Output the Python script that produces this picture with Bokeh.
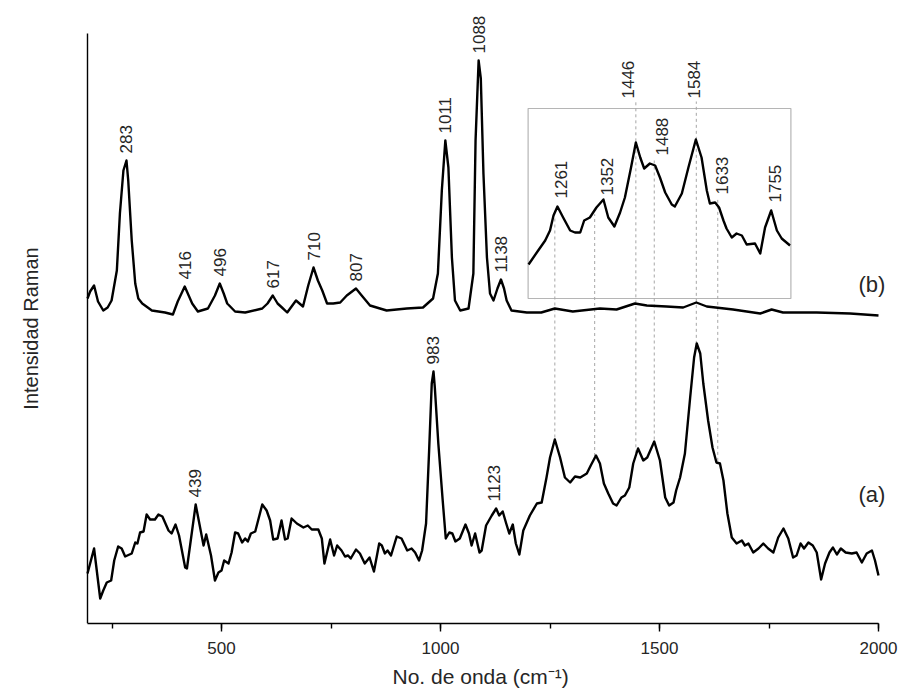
import numpy as np
from bokeh.plotting import figure
from bokeh.models import Range1d, SingleIntervalTicker, Label, ColumnDataSource, Title
from bokeh.core.properties import value
from bokeh.embed import file_html
from bokeh.resources import INLINE

# ---------------- data (wavenumber cm-1, intensity a.u.) ----------------
b_x = [194, 200, 209, 218, 230, 240, 249, 261, 268, 276, 283, 287, 295, 303, 310, 319, 341, 371, 389,
       400, 416, 425, 433, 446, 469, 485, 496, 505, 513, 531, 554, 593, 605, 617, 628, 638, 650, 670,
       686, 698, 710, 720, 730, 741, 755, 771, 786, 807, 820, 839, 877, 923, 960, 983, 994, 1003, 1011,
       1018, 1026, 1033, 1045, 1064, 1075, 1080, 1087, 1092, 1098, 1106, 1113, 1121, 1130, 1138, 1145,
       1151, 1162, 1197, 1230, 1261, 1302, 1364, 1402, 1444, 1471, 1516, 1554, 1584, 1608, 1668, 1730,
       1756, 1782, 1859, 1935, 2000]
b_y = [325, 332, 338, 322, 313, 316, 323, 353, 410, 453, 463, 443, 383, 340, 325, 320, 313, 311, 309,
       322, 337, 328, 320, 312, 315, 328, 340, 330, 320, 312, 311, 315, 320, 328, 320, 316, 311, 323,
       317, 338, 356, 343, 333, 320, 320, 321, 328, 335, 328, 318, 313, 315, 316, 325, 350, 433, 483,
       456, 366, 323, 313, 315, 350, 483, 563, 545, 450, 366, 330, 323, 335, 344, 335,
       323, 313, 311, 311, 315, 312, 315, 314, 320, 318, 317, 316, 321, 317, 314, 310,
       314, 311, 311, 310, 308]

a_x = [194, 209, 223, 230, 238, 248, 255, 264, 272, 280, 295, 303, 308, 314, 322, 329, 337, 348, 356,
       365, 379, 386, 395, 403, 417, 421, 441, 459, 465, 476, 485, 493, 500, 506, 516, 523, 531, 538,
       547, 554, 560, 567, 577, 593, 603, 611, 618, 628, 637, 645, 651, 660, 672, 687, 697, 706, 721,
       729, 735, 748, 757, 764, 774, 782, 789, 795, 807, 816, 827, 838, 848, 860, 866, 873, 879, 887,
       900, 911, 924, 934, 942, 951, 958, 967, 974, 980, 984, 987, 995, 1005, 1012, 1020, 1027, 1034,
       1044, 1057, 1065, 1071, 1079, 1089, 1094, 1104, 1117, 1127, 1134, 1142, 1150, 1157, 1165, 1172,
       1180, 1189, 1204, 1220, 1231, 1242, 1250, 1261, 1273, 1284, 1296, 1307, 1319, 1334, 1343, 1355,
       1364, 1373, 1383, 1394, 1402, 1413, 1421, 1431, 1440, 1451, 1463, 1472, 1488, 1501, 1513, 1522,
       1532, 1538, 1547, 1558, 1570, 1579, 1585, 1593, 1600, 1611, 1621, 1630, 1638, 1646, 1655, 1665,
       1676, 1688, 1695, 1703, 1714, 1726, 1737, 1748, 1760, 1771, 1783, 1794, 1805, 1813, 1822, 1830,
       1840, 1850, 1859, 1869, 1878, 1888, 1896, 1905, 1914, 1925, 1939, 1950, 1962, 1973, 1985, 1992,
       2000]
a_y = [50, 75, 25, 33, 41, 43, 63, 77, 75, 67, 70, 81, 80, 91, 92, 109, 104, 104, 109,
       107, 93, 90, 99, 88, 56, 55, 119, 78, 89, 68, 43, 51, 53, 63, 60, 71, 91, 90,
       81, 85, 82, 90, 92, 119, 113, 103, 84, 85, 103, 84, 85, 105, 100, 96, 98, 94, 94,
       85, 60, 84, 68, 78, 73, 67, 68, 65, 74, 70, 60, 66, 52, 80, 78, 70, 73, 68,
       87, 85, 73, 75, 71, 63, 73, 100, 173, 240, 252, 236, 180, 123, 85, 91, 90, 82,
       85, 99, 90, 78, 90, 71, 73, 98, 108, 115, 108, 112, 100, 90, 99, 80,
       69, 93, 108, 120, 121, 146, 166, 184, 166, 146, 141, 147, 146, 150, 158, 168,
       160, 140, 130, 120, 118, 126, 128, 136, 160, 175, 163, 166, 182, 163, 126, 118,
       121, 133, 146, 170, 226, 266, 280, 270, 240, 203, 176, 161, 160, 143, 110, 86,
       80, 83, 78, 80, 71, 75, 80, 75, 71, 86, 95, 85, 66, 68, 80, 75,
       81, 78, 71, 44, 60, 71, 76, 69, 75, 71, 70, 71, 61, 70, 73, 63,
       48]

# inset: spectrum (b) 1200-1800 cm-1, magnified
ins_x = [1201, 1223, 1239, 1250, 1258, 1267, 1280, 1296, 1307, 1319, 1328, 1341, 1356, 1372, 1383,
         1397, 1410, 1421, 1435, 1446, 1456, 1465, 1478, 1490, 1501, 1513, 1528, 1535, 1551, 1566,
         1583, 1596, 1608, 1615, 1627, 1636, 1646, 1653, 1665, 1676, 1688, 1699, 1718, 1730, 1741,
         1755, 1768, 1779, 1798]
ins_y = [359, 373, 383, 393, 408, 417, 406, 393, 391, 391, 403, 406, 416, 424, 406,
         397, 411, 426, 456, 481, 466, 455, 460, 458, 446, 431, 419, 417, 430, 456,
         484, 466, 433, 420, 421, 416, 403, 395, 386, 390, 388, 379, 380, 370, 396,
         413, 393, 385, 378]

b_peaks = [283, 416, 496, 617, 710, 807, 1011, 1088, 1138]
ins_peaks = [1261, 1352, 1446, 1488, 1584, 1633, 1755]
a_peaks = [439, 983, 1123]
guide_peaks = [1261, 1352, 1446, 1488, 1584, 1633]
x_ticks_interval = 500
x_axis_span = (194, 2000)
y_axis_span = (0, 590)

# ---------------- layout constants ----------------
INSET_X = (1200, 1800)
INSET_Y = (325, 515)
FONT = value("Liberation Sans")
TXT = "#262626"
AXIS_LEFT_PX, AXIS_RIGHT_PX = 87, 878


def local_max(xs, ys, x0, w=12):
    grid = np.linspace(x0 - w, x0 + w, 25)
    return float(np.max(np.interp(grid, xs, ys)))


# the frame covers the whole canvas above the x axis so that no text is clipped;
# the x axis line is limited with bounds, the y axis line is drawn over its span
ppu = (AXIS_RIGHT_PX - AXIS_LEFT_PX) / (x_axis_span[1] - x_axis_span[0])
x_start = x_axis_span[0] - AXIS_LEFT_PX / ppu
x_end = x_axis_span[0] + (904 - AXIS_LEFT_PX) / ppu
p = figure(width=904, height=700, x_range=Range1d(x_start, x_end), y_range=Range1d(0, 623),
           output_backend="svg", toolbar_location=None, y_axis_location=None,
           min_border_left=0, min_border_right=0, min_border_top=0, min_border_bottom=77)
p.xgrid.visible = False
p.ygrid.visible = False
p.outline_line_color = None
p.background_fill_color = "white"

xa = p.xaxis[0]
xa.bounds = x_axis_span
xa.ticker = SingleIntervalTicker(interval=x_ticks_interval, num_minor_ticks=2)
xa.axis_line_width = 1.4
xa.major_tick_line_width = 1.4
xa.minor_tick_line_width = 1.4
xa.major_tick_out = 8
xa.major_tick_in = 0
xa.minor_tick_out = 5
xa.minor_tick_in = 0
xa.major_label_text_font = "Liberation Sans"
xa.major_label_text_font_size = "17px"
xa.major_label_text_color = TXT
xa.major_label_standoff = 10

# y axis line
p.segment(x0=[x_axis_span[0]], y0=[y_axis_span[0]], x1=[x_axis_span[0]], y1=[y_axis_span[1]],
          line_color="black", line_width=1.4)

# x axis title
p.add_layout(Title(text="No. de onda (cm\u207b\u00b9)", align="left", offset=392,
                   text_font="Liberation Sans", text_font_size="21px", text_font_style="normal",
                   text_color=TXT, standoff=12), "below")
# y axis title
p.add_layout(Label(x=x_axis_span[0] - 57 / ppu, y=sum(y_axis_span) / 2,
                   text="Intensidad Raman", angle=np.pi / 2, text_align="center",
                   text_baseline="middle", text_font="Liberation Sans", text_font_size="20px",
                   text_color=TXT))

# inset box
p.quad(left=[INSET_X[0]], right=[INSET_X[1]], bottom=[INSET_Y[0]], top=[INSET_Y[1]],
       fill_color=None, line_color="#b5b5b5", line_width=1.2)

# label positions
above = {1446, 1584}
ins_lab_y = [INSET_Y[1] + 10 if pk in above else local_max(ins_x, ins_y, pk) + 8 for pk in ins_peaks]
ins_dx = [6, 12, -8, 8, -2, 4, 4]

# dashed guides from inset down to spectrum (a)
g_top, g_bot = [], []
for pk in guide_peaks:
    i = ins_peaks.index(pk)
    if pk in (1261, 1352):
        g_top.append(float(np.interp(pk, ins_x, ins_y)) - 4)
    else:
        g_top.append(ins_lab_y[i] - 3)
    g_bot.append(float(np.interp(pk, a_x, a_y)) + 2)
p.segment(x0=guide_peaks, y0=g_bot, x1=guide_peaks, y1=g_top,
          line_color="#a6a6a6", line_width=1, line_dash="3 3")

# spectra
p.line(a_x, a_y, line_color="black", line_width=2.4, line_join="round")
p.line(b_x, b_y, line_color="black", line_width=2.4, line_join="round")
p.line(ins_x, ins_y, line_color="black", line_width=2.4, line_join="round")

# peak labels
lx, ly, lt, ldx = [], [], [], []
for pk in b_peaks:
    lx.append(pk); ly.append(local_max(b_x, b_y, pk) + 7); lt.append(str(pk)); ldx.append(0)
for pk in a_peaks:
    lx.append(pk); ly.append(local_max(a_x, a_y, pk) + 7); lt.append(str(pk)); ldx.append(0)
for pk, yy, dx in zip(ins_peaks, ins_lab_y, ins_dx):
    lx.append(pk); ly.append(yy); lt.append(str(pk)); ldx.append(dx)
src = ColumnDataSource(dict(x=lx, y=ly, t=lt, dx=ldx))
p.text(x="x", y="y", text="t", x_offset="dx", source=src, angle=np.pi / 2,
       text_align="left", text_baseline="middle", text_font=FONT,
       text_font_size="17px", text_color=TXT)

# curve tags
for tag, yy in (("(b)", 339), ("(a)", 129)):
    p.add_layout(Label(x=1985, y=yy, text=tag, text_align="center", text_baseline="middle",
                       text_font="Liberation Sans", text_font_size="22px", text_color=TXT))

open("out.html", "w").write(file_html(p, INLINE))
